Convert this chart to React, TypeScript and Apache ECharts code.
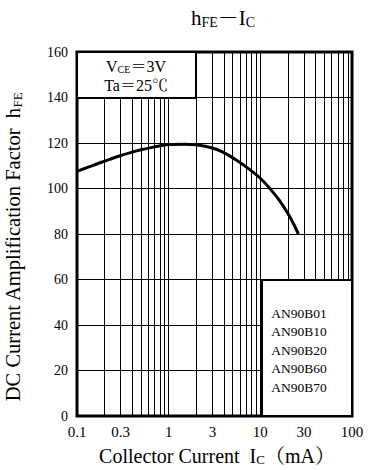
import React, { useEffect, useRef } from "react";
import * as echarts from "echarts";

// Collector current (mA) and DC current amplification factor hFE
const IC = [0.1, 0.15, 0.2, 0.3, 0.4, 0.5, 0.7, 1, 1.5, 2, 3, 4, 5, 7, 10, 13, 16, 20, 23, 26];
const HFE = [107.5, 110.2, 112, 114.5, 116, 117, 118.3, 119.3, 119.5, 119.2, 117.8, 115.8, 113.5, 109.5, 104.5, 99.5, 95, 89, 84.5, 80];

const X_LABELS = [0.1, 0.3, 1, 3, 10, 30, 100];
const X_GRID = [
  0.1, 0.2, 0.3, 0.4, 0.5, 0.6, 0.7, 0.8, 0.9,
  1, 2, 3, 4, 5, 6, 7, 8, 9,
  10, 20, 30, 40, 50, 60, 70, 80, 90, 100,
];
const Y_MIN = 0;
const Y_MAX = 160;
const Y_STEP = 20;
const MODELS = ["AN90B01", "AN90B10", "AN90B20", "AN90B60", "AN90B70"];
const COND_VCE = "3V";
const COND_TA = "25℃";

const FONT = "'Liberation Serif', 'Times New Roman', 'Noto Serif CJK SC', serif";

export default function App() {
  const ref = useRef<HTMLDivElement>(null);
  useEffect(() => {
    if (!ref.current) return;
    const chart = echarts.init(ref.current, null, { renderer: "svg" });
    const L = 77, T = 52, R = 352, B = 416;
    const sub = (size: number, pad: number) => ({
      fontSize: size,
      fontFamily: FONT,
      color: "#000",
      padding: [pad, 0, 0, 0],
    });
    const option: any = {
      animation: false,
      backgroundColor: "#fff",
      grid: {
        left: L,
        top: T,
        right: 372 - R,
        bottom: 470 - B,
        show: true,
        borderColor: "#000",
        borderWidth: 3,
        backgroundColor: "transparent",
        z: 10,
      },
      xAxis: {
        type: "log",
        logBase: 10,
        min: 0.1,
        max: 100,
        axisLine: { show: false },
        axisTick: { show: false },
        splitLine: { show: false },
        axisLabel: {
          customValues: X_LABELS,
          formatter: (v: number) => String(v),
          fontFamily: FONT,
          fontSize: 15,
          color: "#000",
          margin: 8,
        },
      },
      yAxis: {
        type: "value",
        min: Y_MIN,
        max: Y_MAX,
        interval: Y_STEP,
        axisLine: { show: false },
        axisTick: { show: false },
        splitLine: { show: true, lineStyle: { color: "#000", width: 1 } },
        axisLabel: {
          fontFamily: FONT,
          fontSize: 14,
          color: "#000",
          margin: 9,
        },
      },
      series: [
        {
          type: "line",
          data: IC.map((x, i) => [x, HFE[i]]),
          smooth: 0.3,
          showSymbol: false,
          lineStyle: { color: "#000", width: 3 },
          z: 5,
          markLine: {
            silent: true,
            symbol: ["none", "none"],
            label: { show: false },
            lineStyle: { color: "#000", width: 1, type: "solid" },
            data: X_GRID.map((v) => ({ xAxis: v })),
            z: 1,
          },
        },
      ],
      graphic: [
        // Title
        {
          type: "text",
          x: 223,
          y: 18,
          z: 100,
          style: {
            text: "{n|h}{s|FE}{n|－I}{s|C}",
            align: "center",
            verticalAlign: "middle",
            rich: {
              n: { fontSize: 21, fontFamily: FONT, color: "#000" },
              s: sub(14, 8),
            },
          },
        },
        // Conditions box
        {
          type: "rect",
          z: 100,
          shape: { x: L, y: T, width: 119, height: 46 },
          style: { fill: "#fff", stroke: "#000", lineWidth: 2 },
        },
        {
          type: "text",
          x: 136,
          y: 66,
          z: 101,
          style: {
            text: "{n|V}{s|CE}{n|＝" + COND_VCE + "}",
            align: "center",
            verticalAlign: "middle",
            rich: {
              n: { fontSize: 16, fontFamily: FONT, color: "#000" },
              s: sub(10, 7),
            },
          },
        },
        {
          type: "text",
          x: 136,
          y: 85,
          z: 101,
          style: {
            text: "Ta＝" + COND_TA,
            align: "center",
            verticalAlign: "middle",
            fontSize: 16,
            fontFamily: FONT,
            fill: "#000",
          },
        },
        // Models box
        {
          type: "rect",
          z: 100,
          shape: { x: 262, y: 280, width: R - 262, height: B - 280 },
          style: { fill: "#fff", stroke: "#000", lineWidth: 2 },
        },
        {
          type: "text",
          x: 299,
          y: 350,
          z: 101,
          style: {
            text: MODELS.join("\n"),
            align: "center",
            verticalAlign: "middle",
            fontSize: 13.5,
            lineHeight: 18.5,
            fontFamily: FONT,
            fill: "#000",
          },
        },
        // X axis title
        {
          type: "text",
          x: 217,
          y: 456,
          z: 100,
          style: {
            text: "{n|Collector Current  I}{s|C}{n|（mA）}",
            align: "center",
            verticalAlign: "middle",
            rich: {
              n: { fontSize: 20, fontFamily: FONT, color: "#000" },
              s: sub(13, 7),
            },
          },
        },
        // Y axis title
        {
          type: "text",
          x: 13,
          y: 247,
          rotation: Math.PI / 2,
          z: 100,
          style: {
            text: "{n|DC Current Amplification Factor  h}{s|FE}",
            align: "center",
            verticalAlign: "middle",
            rich: {
              n: { fontSize: 20.5, fontFamily: FONT, color: "#000" },
              s: sub(13, 9),
            },
          },
        },
      ],
    };
    chart.setOption(option);
    return () => chart.dispose();
  }, []);
  return (
    <div
      ref={ref}
      style={{ position: "fixed", left: 0, top: 0, width: 372, height: 470, background: "#fff" }}
    />
  );
}
